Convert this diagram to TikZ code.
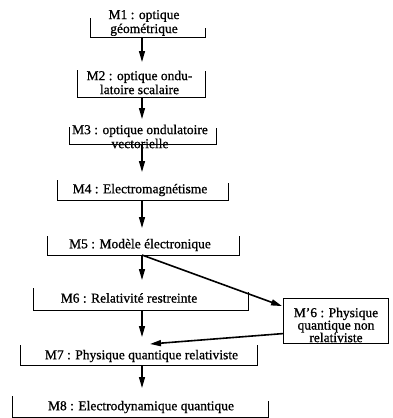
\documentclass[tikz,border=0pt]{standalone}
\usepackage{fontspec}
\setmainfont[FakeBold=0.9]{Liberation Serif}
\usepackage{tikz}
\usetikzlibrary{positioning, calc, arrows.meta}
\tikzset{frame/.style={inner sep=0pt, outer sep=0pt}}
\tikzset{modtext/.style={font=\fontsize{13.5}{14}\selectfont, align=center, inner sep=0pt}}
\tikzset{rule/.style={line width=0.8pt}}
\tikzset{flow/.style={line width=1.3pt, -{Triangle[length=11pt,width=6pt]}, shorten >=8pt}}
\newcommand{\bracket}[2]{\draw[rule] (#1.north west) |- (#1.south east) -- ++(0,-#2);}

\begin{document}
\begin{tikzpicture}[x=1pt,y=-1pt]
      \useasboundingbox (0,0) rectangle (393,418);
      \coordinate (axis) at (142,0);

      % frames of the modules
      \node[frame, minimum width=115pt, minimum height=19pt] (m1) at (147.5,27.5) {};
      \node[frame, minimum width=128pt, minimum height=27pt] (m2) at (141,83.5) {};
      \node[frame, minimum width=147pt, minimum height=17pt] (m3) at (142.5,135.5) {};
      \node[frame, minimum width=171pt, minimum height=20pt] (m4) at (142.5,190) {};
      \node[frame, minimum width=192pt, minimum height=19pt] (m5) at (143,245.5) {};
      \node[frame, minimum width=215pt, minimum height=22pt] (m6) at (140.5,299) {};
      \node[frame, minimum width=237pt, minimum height=20pt] (m7) at (138.5,355) {};
      \node[frame, minimum width=256pt, minimum height=21pt] (m8) at (140,406.5) {};
      \bracket{m1}{9}
      \bracket{m2}{26}
      \bracket{m3}{16}
      \bracket{m4}{17}
      \bracket{m5}{19}
      \bracket{m6}{18}
      \bracket{m7}{20}
      \bracket{m8}{16}
      \node[draw, rule, frame, minimum width=105pt, minimum height=45pt] (m6b) at (335.5,320.5) {};

      % texts
      \node[modtext] (m1t) at (144,23) {M1 : optique\\géométrique};
      \node[modtext] (m2t) at (139.5,82.5) {M2 : optique ondu-\\latoire scalaire};
      \node[modtext] (m3t) at (140,136.5) {M3 : optique ondulatoire\\vectorielle};
      \node[modtext] (m4t) at (140,190) {M4 : Electromagnétisme};
      \node[modtext] (m5t) at (140,245) {M5 : Modèle électronique};
      \node[modtext] (m6t) at (129,298) {M6 : Relativité restreinte};
      \node[modtext] (m7t) at (141.5,356) {M7 : Physique quantique relativiste};
      \node[modtext] (m8t) at (141,407) {M8 : Electrodynamique quantique};
      \node[modtext, font=\fontsize{13.5}{12.5}\selectfont] (m6bt) at (336,325) {M'6 : Physique\\quantique non\\relativiste};

      % arrows
      \draw[flow] (m1.south -| axis) -- (m2.north -| axis);
      \draw[flow] (m2.south -| axis) -- (m3.north -| axis);
      \draw[flow] (m3.south -| axis) -- (m4.north -| axis);
      \draw[flow] (m4.south -| axis) -- (m5.north -| axis);
      \draw[flow] (m5.south -| axis) -- (m6.north -| axis);
      \draw[flow] (m6.south -| axis) -- (m7.north -| axis);
      \draw[flow] (m7.south -| axis) -- (m8.north -| axis);
      \draw[flow, line width=1.6pt, shorten >=1pt] (m5.south -| axis) -- (m6b.165);
      \draw[flow, line width=1.6pt, shorten >=0pt] (m6b.194) -- ([xshift=11.5pt,yshift=1pt]m7.north);

    \end{tikzpicture}
\end{document}
